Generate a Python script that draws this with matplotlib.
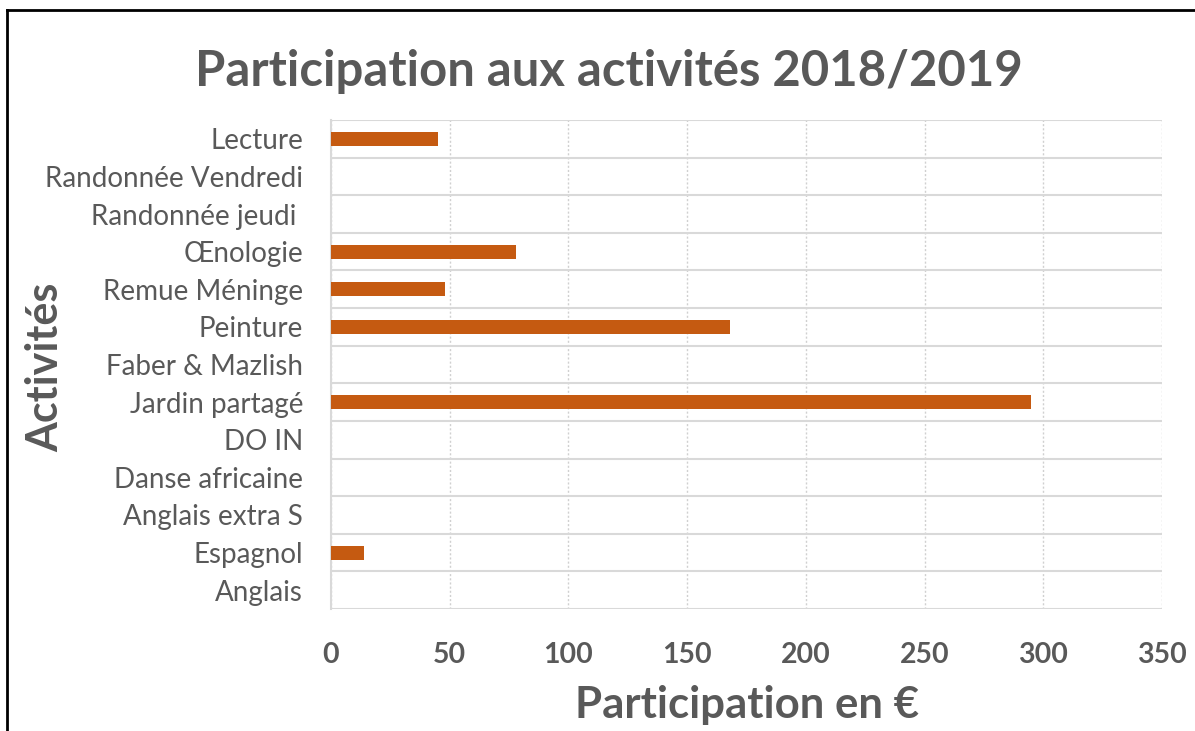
import numpy as np
import matplotlib.pyplot as plt
from matplotlib.lines import Line2D

# Données
activites = ["Anglais", "Espagnol", "Anglais extra S", "Danse africaine", "DO IN",
             "Jardin partagé", "Faber & Mazlish", "Peinture", "Remue Méninge",
             "Œnologie", "Randonnée jeudi ", "Randonnée Vendredi", "Lecture"]
participation = [0, 14, 0, 0, 0, 295, 0, 168, 48, 78, 0, 0, 45]
x_ticks = [0, 50, 100, 150, 200, 250, 300, 350]

plt.rcParams["font.family"] = ["Lato", "DejaVu Sans"]
gris = "#595959"

fig = plt.figure(figsize=(11.95, 7.31), dpi=100)
W, H = 1195, 731
ax = fig.add_axes([331 / W, 1 - 609 / H, (1162 - 331) / W, (609 - 120) / H])

y = np.arange(len(activites))
ax.barh(y, participation, height=0.37, color="#C55A11", zorder=3)

ax.set_xlim(0, 350)
ax.set_ylim(-0.5, len(activites) - 0.5)
ax.set_xticks(x_ticks)
ax.set_xticklabels([str(v) for v in x_ticks], fontsize=20.5, fontweight="bold", color=gris)
ax.set_yticks(y)
ax.set_yticklabels(activites, fontsize=20, color=gris)
ax.set_yticks(np.arange(-0.5, len(activites), 1), minor=True)

ax.tick_params(axis="both", which="both", length=0)
ax.tick_params(axis="y", pad=20)
ax.tick_params(axis="x", pad=24)

# quadrillage
ax.grid(axis="x", which="major", color="#D0D0D0", linestyle=(0, (1.5, 1.5)), linewidth=1, zorder=0)
ax.grid(axis="y", which="minor", color="#D9D9D9", linestyle="-", linewidth=1.5, zorder=0)
ax.grid(axis="y", which="major", visible=False)

for s in ["top", "right", "bottom"]:
    ax.spines[s].set_visible(False)
ax.spines["left"].set_color("#D9D9D9")
ax.spines["left"].set_linewidth(1.5)

fig.text(609 / W, 1 - 72 / H, "Participation aux activités 2018/2019",
         ha="center", va="center", fontsize=35.3, fontweight="bold", color=gris)
fig.text(747 / W, 1 - 705 / H, "Participation en €",
         ha="center", va="center", fontsize=31.5, fontweight="bold", color=gris)
fig.text(45 / W, 1 - 367 / H, "Activités", rotation=90,
         ha="center", va="center", fontsize=31, fontweight="bold", color=gris)

# cadre
fig.add_artist(Line2D([7 / W, 7 / W], [0, 1 - 10 / H], color="black", linewidth=2, transform=fig.transFigure))
fig.add_artist(Line2D([7 / W, 1], [1 - 10 / H, 1 - 10 / H], color="black", linewidth=2, transform=fig.transFigure))

fig.savefig("out.png", dpi=100)
plt.close()
